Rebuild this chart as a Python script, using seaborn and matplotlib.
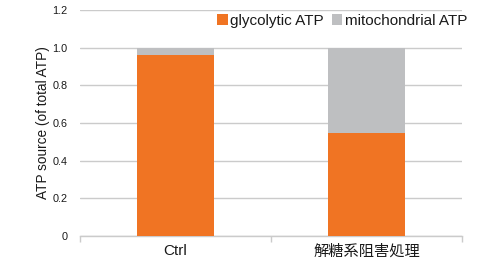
import matplotlib
matplotlib.use("Agg")
import matplotlib.pyplot as plt
import seaborn as sns
import pandas as pd
from matplotlib.patches import Patch

categories = ["Ctrl", "解糖系阻害処理"]
glycolytic = [0.96, 0.545]
mitochondrial = [0.04, 0.455]
series_names = ["glycolytic ATP", "mitochondrial ATP"]
yticks = [0, 0.2, 0.4, 0.6, 0.8, 1.0, 1.2]
ytick_labels = ["0", "0.2", "0.4", "0.6", "0.8", "1.0", "1.2"]

sns.set_theme(style="white")
plt.rcParams["font.family"] = ["Liberation Sans", "Noto Sans CJK JP"]

orange = "#F07423"
gray = "#BEBFC1"
grid_c = "#CBCBCB"
text_c = "#1a1a1a"

df = pd.DataFrame({
    "cat": categories,
    "glyco": glycolytic,
    "total": [g + m for g, m in zip(glycolytic, mitochondrial)],
})

fig = plt.figure(figsize=(5.01, 2.61), dpi=100)
ax = fig.add_axes([80 / 501, 1 - 236 / 261, (462 - 80) / 501, (236 - 10) / 261])

sns.barplot(data=df, x="cat", y="total", color=gray, width=0.4, ax=ax,
            saturation=1, zorder=2, linewidth=0)
sns.barplot(data=df, x="cat", y="glyco", color=orange, width=0.4, ax=ax,
            saturation=1, zorder=3, linewidth=0)

ax.set_xlim(-0.5, 1.5)
ax.set_ylim(0, 1.2)
ax.set_yticks(yticks)
ax.set_yticklabels(ytick_labels)
ax.yaxis.grid(True, color=grid_c, linewidth=1.0, zorder=0)
ax.set_axisbelow(True)

for s in ["top", "right", "left"]:
    ax.spines[s].set_visible(False)
ax.spines["bottom"].set_color(grid_c)
ax.spines["bottom"].set_linewidth(1.0)

ax.tick_params(axis="y", length=0, pad=9, labelsize=7.8, labelcolor=text_c)
ax.tick_params(axis="x", which="major", length=0, pad=6, labelsize=11, labelcolor=text_c)
ax.set_xticks([-0.5, 0.5, 1.5], minor=True)
ax.tick_params(axis="x", which="minor", bottom=True, length=4, width=1, color=grid_c)

ax.set_xlabel("")
ax.set_ylabel("ATP source (of total ATP)", fontsize=9.8, color=text_c, labelpad=2)

handles = [Patch(facecolor=orange, edgecolor="none"), Patch(facecolor=gray, edgecolor="none")]
fig.legend(handles, series_names, loc="center right",
           bbox_to_anchor=(467 / 501, 1 - 21 / 261), bbox_transform=fig.transFigure,
           ncol=2, frameon=False, fontsize=11, handlelength=0.7, handleheight=0.7,
           handletextpad=0.15, columnspacing=0.5, borderpad=0, borderaxespad=0,
           labelcolor=text_c)

fig.savefig("out.png", dpi=100)
